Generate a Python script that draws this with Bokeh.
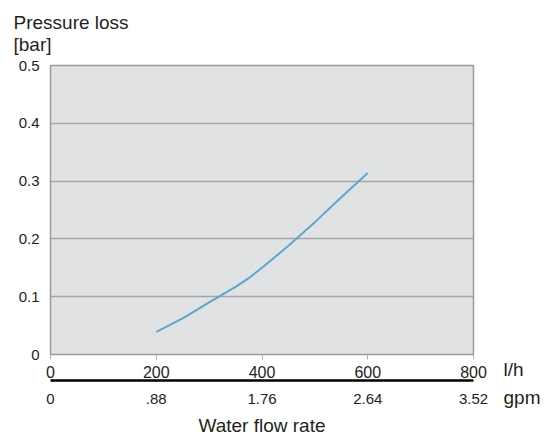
from bokeh.plotting import figure
from bokeh.models import Range1d, LinearAxis, FixedTicker, Title
from bokeh.layouts import row
from bokeh.embed import file_html
from bokeh.resources import INLINE

# data
flow_lh = [200, 250, 300, 350, 375, 400, 450, 500, 550, 600]
pressure_bar = [0.039, 0.0625, 0.090, 0.117, 0.132, 0.150, 0.188, 0.229, 0.272, 0.314]

lh_ticks = [0, 200, 400, 600, 800]
lh_labels = ["0", "200", "400", "600", "800"]
gpm_ticks = [0, 0.88, 1.76, 2.64, 3.52]
gpm_labels = ["0", ".88", "1.76", "2.64", "3.52"]
p_ticks = [0, 0.1, 0.2, 0.3, 0.4, 0.5]
p_labels = ["0", "0.1", "0.2", "0.3", "0.4", "0.5"]
grid_ticks = [0.1, 0.2, 0.3, 0.4]
y_title = "Pressure loss\n[bar]"
x_title = "Water flow rate"
unit_lh = "l/h"
unit_gpm = "gpm"

FONT = "Liberation Sans"
TXT = "#231f20"

p = figure(width=495, height=439, output_backend="svg", toolbar_location=None,
           x_range=Range1d(0, 800), y_range=Range1d(0, 0.5),
           min_border_left=50, min_border_right=22, min_border_top=65, min_border_bottom=85)

p.background_fill_color = "#e1e2e4"
p.border_fill_color = "white"
p.outline_line_color = "#9a9a9a"
p.outline_line_width = 1.5

p.xgrid.visible = False
p.ygrid.ticker = FixedTicker(ticks=grid_ticks)
p.ygrid.grid_line_color = "#a5a5a5"
p.ygrid.grid_line_width = 1.5

# y axis
ya = p.yaxis[0]
ya.ticker = FixedTicker(ticks=p_ticks)
ya.major_label_overrides = dict(zip(p_ticks, p_labels))
ya.axis_line_color = None
ya.major_tick_line_color = None
ya.minor_tick_line_color = None
ya.major_tick_out = 0
ya.major_tick_in = 0
ya.major_label_standoff = 11
ya.major_label_text_font = FONT
ya.major_label_text_font_size = "15px"
ya.major_label_text_color = TXT

# primary x axis (l/h)
xa = p.xaxis[0]
xa.ticker = FixedTicker(ticks=lh_ticks)
xa.major_label_overrides = dict(zip(lh_ticks, lh_labels))
xa.axis_line_color = None
xa.major_tick_line_color = "#b0b0b0"
xa.major_tick_line_width = 1
xa.major_tick_out = 5
xa.major_tick_in = 0
xa.minor_tick_line_color = None
xa.major_label_standoff = 6
xa.major_label_text_font = FONT
xa.major_label_text_font_size = "16px"
xa.major_label_text_color = TXT

# secondary x axis (gpm)
p.extra_x_ranges = {"gpm": Range1d(0, 3.52)}
ga = LinearAxis(x_range_name="gpm", ticker=FixedTicker(ticks=gpm_ticks))
ga.major_label_overrides = dict(zip(gpm_ticks, gpm_labels))
ga.axis_line_color = "black"
ga.axis_line_width = 2.5
ga.major_tick_line_color = None
ga.minor_tick_line_color = None
ga.major_tick_out = 0
ga.major_tick_in = 0
ga.major_label_standoff = 13
ga.major_label_text_font = FONT
ga.major_label_text_font_size = "15px"
ga.major_label_text_color = TXT
ga.axis_label = x_title
ga.axis_label_standoff = 8
ga.axis_label_text_font = FONT
ga.axis_label_text_font_size = "19px"
ga.axis_label_text_font_style = "normal"
ga.axis_label_text_color = TXT
p.add_layout(ga, "below")

# y title (two lines, above the frame)
p.add_layout(Title(text=y_title, align="left", offset=-37, standoff=18,
                   text_line_height=1.05, vertical_align="top",
                   text_font=FONT, text_font_size="19px", text_font_style="normal",
                   text_color=TXT), "above")

# curve
p.line(flow_lh, pressure_bar, line_color="#5ba8cf", line_width=2)

# unit labels to the right of the axes
side = figure(width=52, height=439, output_backend="svg", toolbar_location=None,
              x_range=Range1d(0, 1), y_range=Range1d(0, 1),
              x_axis_location=None, y_axis_location=None, min_border=0)
side.outline_line_color = None
side.background_fill_color = "white"
side.border_fill_color = "white"
side.grid.visible = False
side.add_layout(Title(text=unit_lh, align="left", offset=8, standoff=4,
                      text_font=FONT, text_font_size="19px", text_font_style="normal",
                      text_color=TXT), "below")
side.add_layout(Title(text=unit_gpm, align="left", offset=8, standoff=6,
                      text_font=FONT, text_font_size="19px", text_font_style="normal",
                      text_color=TXT), "below")

layout = row(p, side, spacing=0)
open("out.html", "w").write(file_html(layout, INLINE))
